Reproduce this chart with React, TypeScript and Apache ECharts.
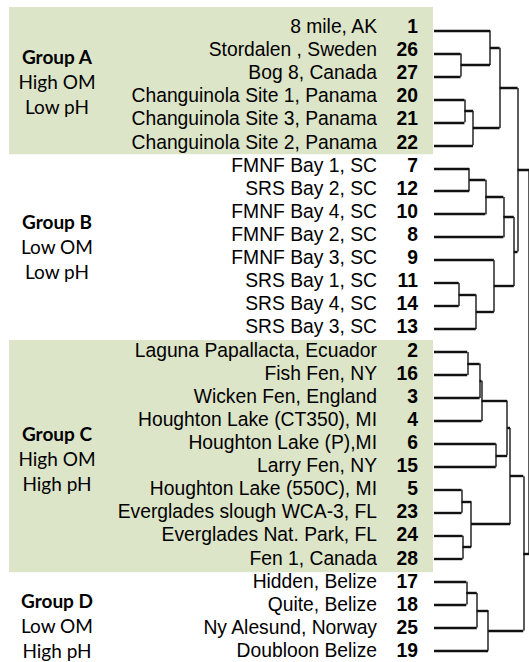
import React, { useEffect, useRef } from "react";
import * as echarts from "echarts";

// ---- data ----
const siteNames = [
  "8 mile, AK",
  "Stordalen , Sweden",
  "Bog 8, Canada",
  "Changuinola Site 1, Panama",
  "Changuinola Site 3, Panama",
  "Changuinola Site 2, Panama",
  "FMNF Bay 1, SC",
  "SRS Bay 2, SC",
  "FMNF Bay 4, SC",
  "FMNF Bay 2, SC",
  "FMNF Bay 3, SC",
  "SRS Bay 1, SC",
  "SRS Bay 4, SC",
  "SRS Bay 3, SC",
  "Laguna Papallacta, Ecuador",
  "Fish Fen, NY",
  "Wicken Fen, England",
  "Houghton Lake (CT350), MI",
  "Houghton Lake (P),MI",
  "Larry Fen, NY",
  "Houghton Lake (550C), MI",
  "Everglades slough WCA-3, FL",
  "Everglades Nat. Park, FL",
  "Fen 1, Canada",
  "Hidden, Belize",
  "Quite, Belize",
  "Ny Alesund, Norway",
  "Doubloon Belize",
];
const siteIds = [
  "1", "26", "27", "20", "21", "22", "7", "12", "10", "8", "9", "11", "14", "13",
  "2", "16", "3", "4", "6", "15", "5", "23", "24", "28", "17", "18", "25", "19",
];

const groupNames = ["Group A", "Group B", "Group C", "Group D"];
const groupOM = ["High OM", "Low OM", "High OM", "Low OM"];
const groupPH = ["Low pH", "Low pH", "High pH", "High pH"];
const groupShaded = [true, false, true, false];

// linkage (scipy style): node ids >= 28 refer to earlier merges (28 + index)
const mergeLeft = [1, 0, 3, 30, 29, 6, 33, 34, 11, 36, 10, 35, 32, 14, 41, 42, 18, 43, 20, 22, 46, 45, 24, 50, 51, 49, 40];
const mergeRight = [2, 28, 4, 5, 31, 7, 8, 9, 12, 13, 37, 38, 39, 15, 16, 17, 19, 44, 21, 23, 47, 48, 25, 26, 27, 52, 53];
const mergeHeight = [28, 59, 32, 41, 69, 37, 54, 73, 26, 44, 63, 84, 88, 35, 48, 50, 65, 77, 29, 30, 39, 80, 34, 45, 57, 94, 100];

// ---- layout / style ----
const SHADE = "#dde5c9";
const TEXT = "#000000";
const LINE = "#111111";

function buildSegments() {
  const n = siteNames.length;
  const nodeY: number[] = [];
  const nodeH: number[] = [];
  for (let i = 0; i < n; i++) {
    nodeY.push(i);
    nodeH.push(0);
  }
  const horiz: any[] = [];
  const vert: any[] = [];
  for (let k = 0; k < mergeLeft.length; k++) {
    const a = mergeLeft[k];
    const b = mergeRight[k];
    const h = mergeHeight[k];
    horiz.push({ coords: [[nodeH[a], nodeY[a]], [h, nodeY[a]]] });
    horiz.push({ coords: [[nodeH[b], nodeY[b]], [h, nodeY[b]]] });
    vert.push({ coords: [[h, nodeY[a]], [h, nodeY[b]]] });
    nodeY.push((nodeY[a] + nodeY[b]) / 2);
    nodeH.push(h);
  }
  return { horiz, vert };
}

export default function App() {
  const ref = useRef<HTMLDivElement>(null);
  useEffect(() => {
    if (!ref.current) return;
    const chart = echarts.init(ref.current, undefined, { renderer: "svg" });
    const { horiz, vert } = buildSegments();

    const groupStart = [0, 6, 14, 24];
    const groupEnd = [5, 13, 23, 27];
    const rowTop = 15;
    const rowH = 650 / siteNames.length;
    const blockCenters = [81.5, 246.5, 458, 625];

    const graphics: any[] = [];
    groupNames.forEach((g, i) => {
      if (groupShaded[i]) {
        const y0 = i === 0 ? 7 : rowTop + groupStart[i] * rowH;
        const y1 = rowTop + (groupEnd[i] + 1) * rowH;
        graphics.push({
          type: "rect",
          z: -10,
          shape: { x: 9, y: y0, width: 424, height: y1 - y0 },
          style: { fill: SHADE },
          silent: true,
        });
      }
      const c = blockCenters[i];
      const lines = [g, groupOM[i], groupPH[i]];
      lines.forEach((t, j) => {
        graphics.push({
          type: "text",
          x: 57,
          y: c + (j - 1) * 25,
          style: {
            text: t,
            fill: TEXT,
            font: `${j === 0 ? "bold " : ""}19px Lato, "Open Sans", sans-serif`,
            align: "center",
            verticalAlign: "middle",
          },
        });
      });
    });

    chart.setOption({
      animation: false,
      backgroundColor: "#ffffff",
      graphic: graphics,
      grid: [
        { left: 420, top: rowTop, width: 10, height: 650 },
        { left: 434, top: 19, width: 100, height: 644 },
      ],
      xAxis: [
        { type: "value", gridIndex: 0, show: false },
        { type: "value", gridIndex: 1, min: 0, max: 100, show: false },
      ],
      yAxis: [
        {
          type: "category",
          gridIndex: 0,
          position: "left",
          inverse: true,
          data: siteNames,
          axisLine: { show: false },
          axisTick: { show: false },
          splitLine: { show: false },
          axisLabel: {
            interval: 0,
            margin: 43,
            color: TEXT,
            fontSize: 19.3,
            fontFamily: "Liberation Sans, Arial, sans-serif",
          },
        },
        {
          type: "category",
          gridIndex: 0,
          position: "left",
          offset: 0,
          inverse: true,
          data: siteIds,
          axisLine: { show: false },
          axisTick: { show: false },
          splitLine: { show: false },
          axisLabel: {
            interval: 0,
            margin: 2,
            color: TEXT,
            fontSize: 19.3,
            fontWeight: "bold",
            fontFamily: "Liberation Sans, Arial, sans-serif",
          },
        },
        {
          type: "value",
          gridIndex: 1,
          min: -0.5,
          max: siteNames.length - 0.5,
          inverse: true,
          show: false,
        },
      ],
      series: [
        {
          type: "lines",
          coordinateSystem: "cartesian2d",
          xAxisIndex: 1,
          yAxisIndex: 2,
          data: vert,
          silent: true,
          lineStyle: { color: "#333333", width: 1.6, opacity: 1 },
        },
        {
          type: "lines",
          coordinateSystem: "cartesian2d",
          xAxisIndex: 1,
          yAxisIndex: 2,
          data: horiz,
          silent: true,
          lineStyle: { color: LINE, width: 2.4, opacity: 1 },
        },
      ],
    });
    return () => chart.dispose();
  }, []);

  return (
    <div
      ref={ref}
      style={{ position: "fixed", left: 0, top: 0, width: 529, height: 662, background: "#fff" }}
    />
  );
}
